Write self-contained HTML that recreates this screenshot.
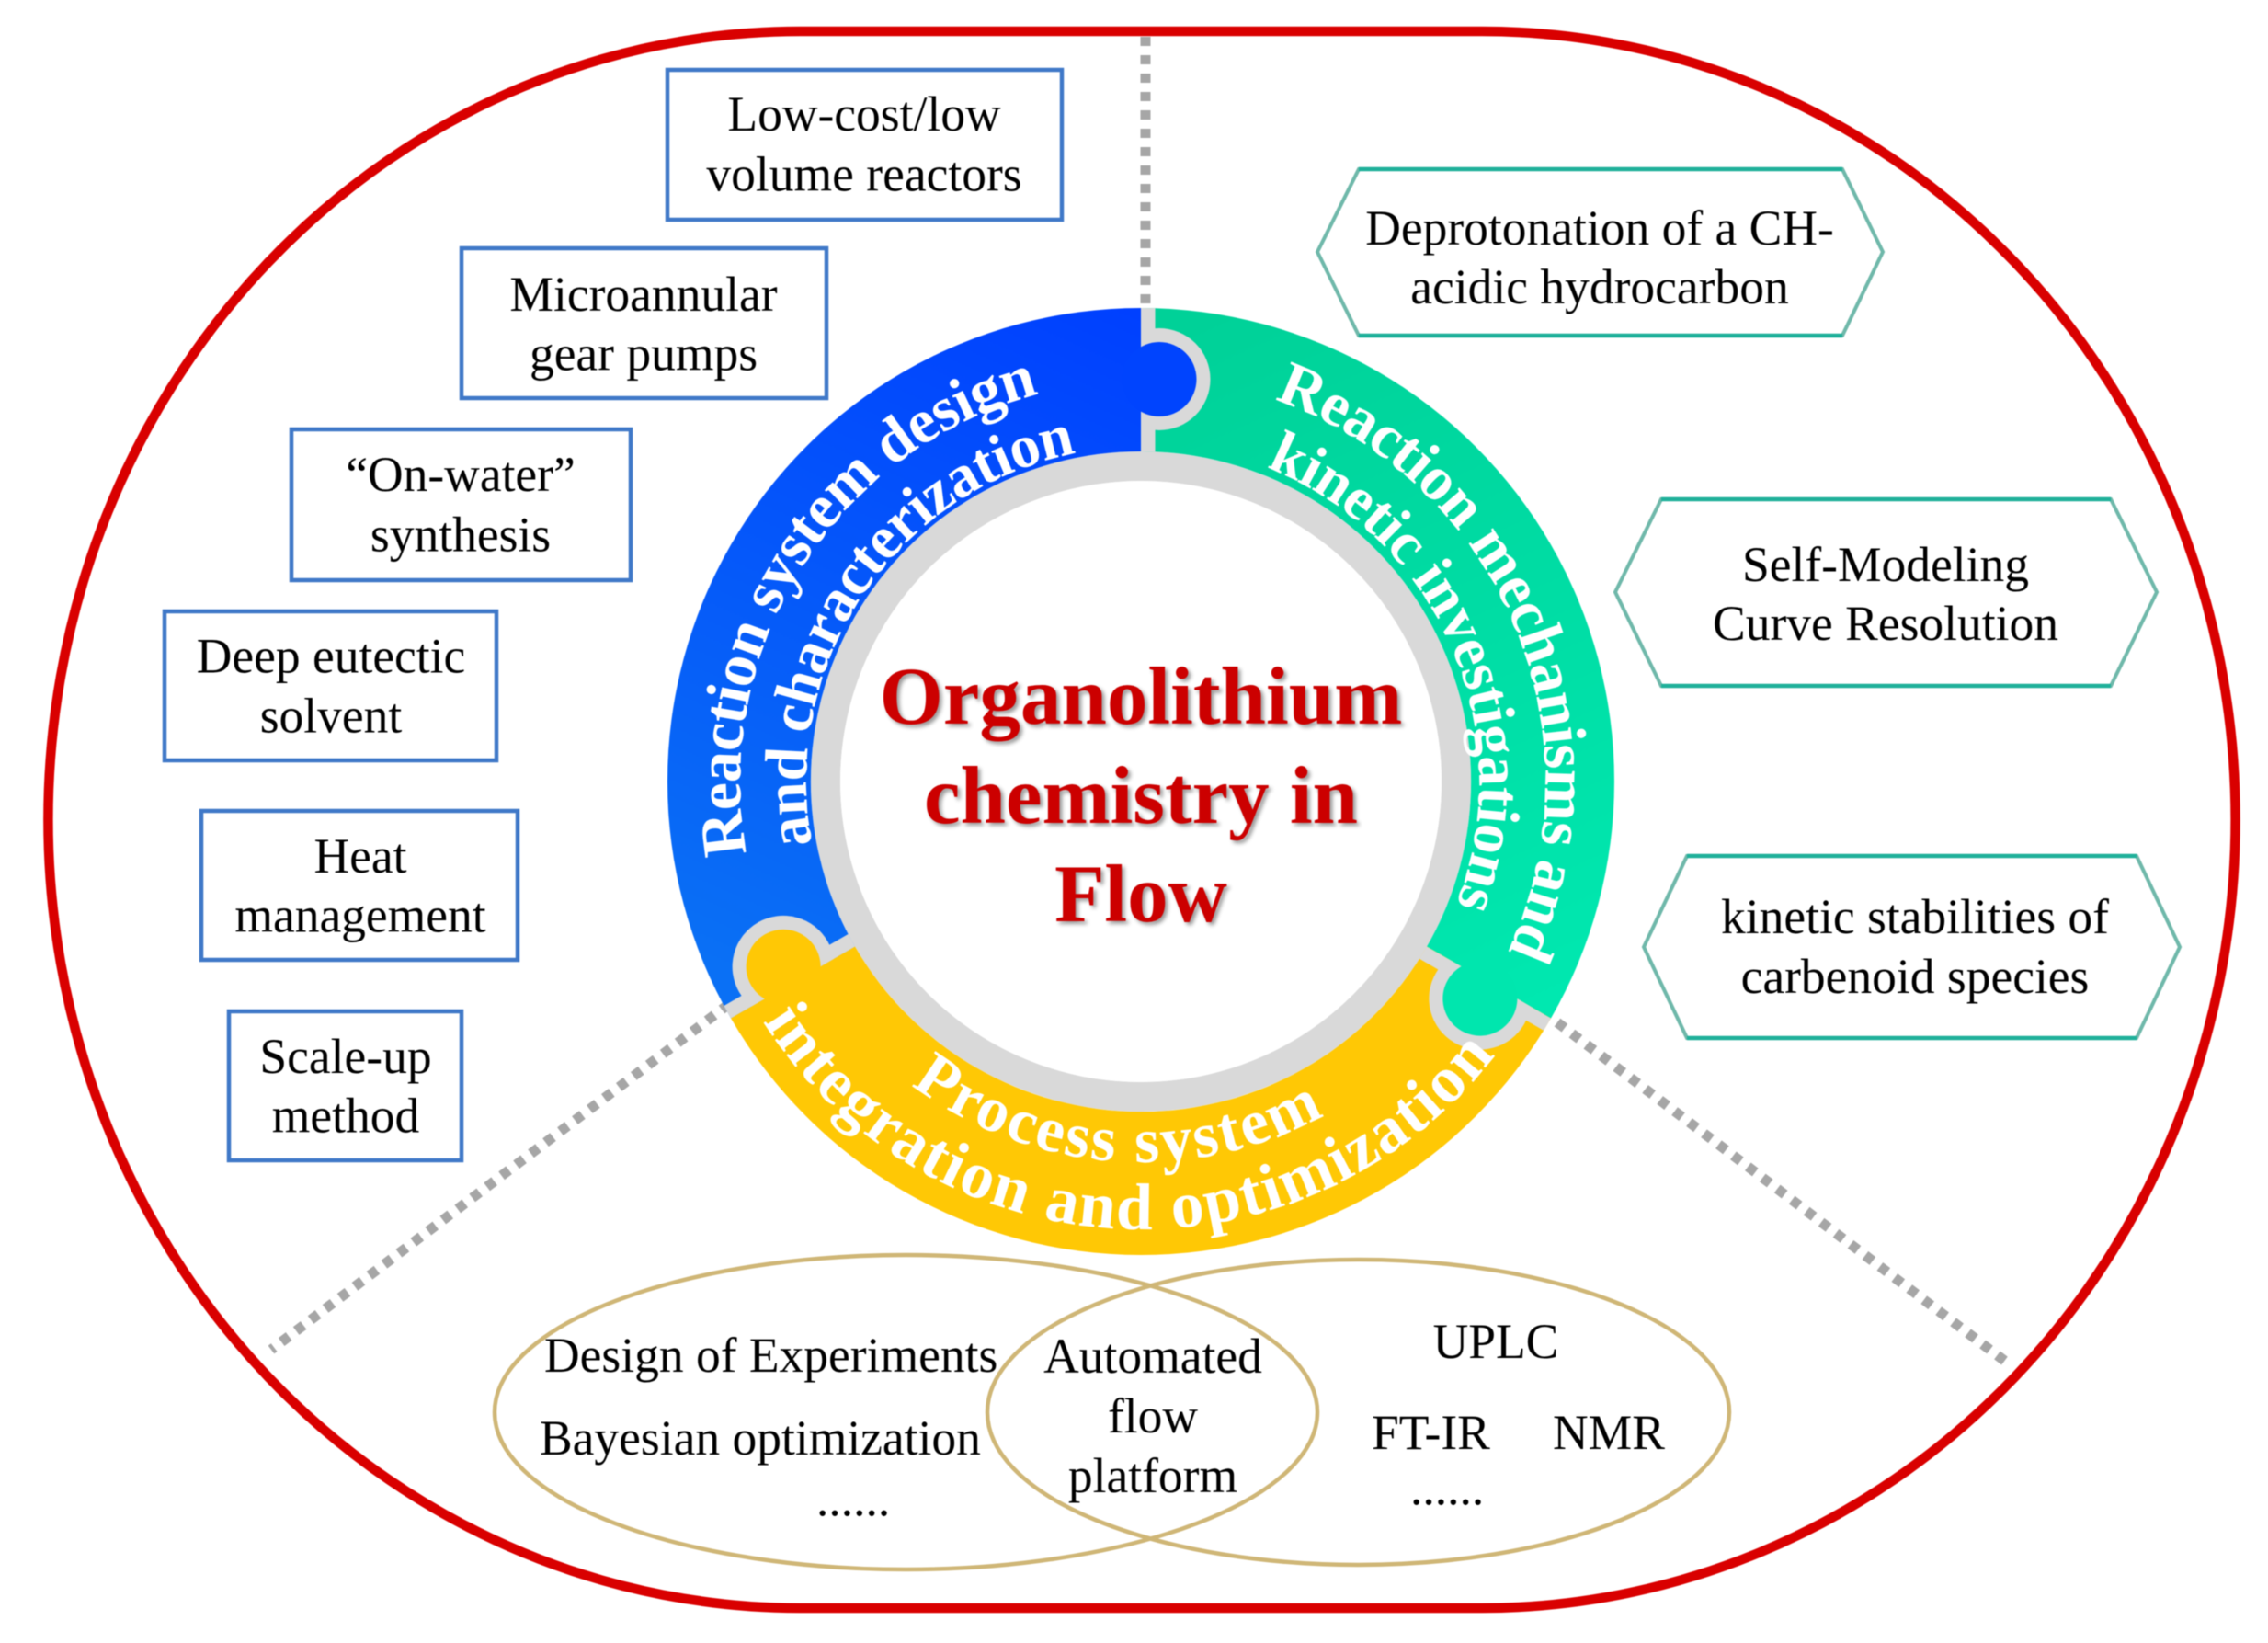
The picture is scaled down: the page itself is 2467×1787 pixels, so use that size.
<!DOCTYPE html>
<html><head><meta charset="utf-8"><style>
html,body{margin:0;padding:0;background:#fff}
svg{display:block;filter:blur(.6px)}
text{font-family:"Liberation Serif",serif}
.t{font-size:53.5px;fill:#000}
.w{font-weight:bold;fill:#fff;text-anchor:middle}
.title{font-size:89px;font-weight:bold;fill:#cc0000;text-anchor:middle;filter:drop-shadow(3px 3px 2px #999)}
</style></head><body>
<svg width="2467" height="1787" viewBox="0 0 2467 1787" xmlns="http://www.w3.org/2000/svg">
<defs>
<linearGradient id="gb" gradientUnits="userSpaceOnUse" x1="0" y1="-515" x2="-340" y2="250"><stop offset="0" stop-color="#0040ff"/><stop offset="1" stop-color="#0a70f5"/></linearGradient>
<linearGradient id="gg" gradientUnits="userSpaceOnUse" x1="60" y1="-515" x2="410" y2="250"><stop offset="0" stop-color="#00d198"/><stop offset="1" stop-color="#00e8b0"/></linearGradient>
<clipPath id="ringclip"><path clip-rule="evenodd" d="M-515 0A515 515 0 1 1 515 0A515 515 0 1 1 -515 0ZM-359 0A359 359 0 1 0 359 0A359 359 0 1 0 -359 0Z"/></clipPath>
<clipPath id="rgt"><rect x="0" y="-600" width="400" height="400"/></clipPath>
<path id="a436" d="M-436 0A436 436 0 0 1 436 0"/>
<path id="a364" d="M-364 0A364 364 0 0 1 364 0"/>
<path id="a440" d="M-440 0A440 440 0 0 1 440 0"/>
<path id="a368" d="M-368 0A368 368 0 0 1 368 0"/>
<path id="b414" d="M-414 0A414 414 0 0 0 414 0"/>
<path id="b487" d="M-487 0A487 487 0 0 0 487 0"/>
</defs>
<rect width="2467" height="1787" fill="#fff"/>
<path d="M870 34H1612A820 857.500 0 0 1 1612 1749H870A818 857.500 0 0 1 870 34Z" fill="none" stroke="#d90000" stroke-width="10.5"/>
<g fill="none" stroke="#a6a6a6" stroke-width="11" stroke-dasharray="10 10">
<path d="M1246 40V330"/>
<path d="M793 1092L295 1468"/>
<path d="M1678 1100L2183 1482"/>
</g>
<g fill="#fff" stroke="#3f78c8" stroke-width="4.5">
<rect x="726" y="76" width="429" height="163"/>
<rect x="502" y="270" width="397" height="163"/>
<rect x="317" y="467" width="369" height="164"/>
<rect x="179" y="665" width="361" height="162"/>
<rect x="219" y="882" width="344" height="162"/>
<rect x="249" y="1100" width="253" height="162"/>
</g>
<g fill="#fff" stroke="#6fb8aa" stroke-width="4">
<path d="M1433 274L1478 184H2004L2048 274L2004 365H1478Z"/>
<path d="M1757 644L1807 543H2296L2346 644L2296 746H1807Z"/>
<path d="M1788 1030L1835 931H2324L2371 1030L2324 1129H1835Z"/>
</g>
<g fill="none" stroke="#1fb09a" stroke-width="4.5">
<path d="M1478 184H2004M1478 365H2004"/>
<path d="M1807 543H2296M1807 746H2296"/>
<path d="M1835 931H2324M1835 1129H2324"/>
</g>
<g fill="none" stroke="#cfb676" stroke-width="4.5">
<ellipse cx="985.5" cy="1536" rx="447.5" ry="171"/>
<ellipse cx="1477.5" cy="1536" rx="403.5" ry="166"/>
</g>
<g transform="translate(1241 850)">
<circle r="343" fill="none" stroke="#d9d9d9" stroke-width="32"/>
<path d="M0 -515A515 515 0 0 0 -446 257.500L-311 179.500A359 359 0 0 1 0 -359Z" fill="url(#gb)"/>
<path d="M0 -515A515 515 0 0 1 446 257.500L311 179.500A359 359 0 0 0 0 -359Z" fill="url(#gg)"/>
<path d="M446 257.500A515 515 0 0 1 -446 257.500L-311 179.500A359 359 0 0 0 311 179.500Z" fill="#ffc805"/>
<g clip-path="url(#ringclip)">
<g clip-path="url(#rgt)"><rect x="0" y="-520" width="15.500" height="165" fill="#d9d9d9"/><circle cx="20" cy="-437.500" r="55.500" fill="#d9d9d9"/></g>
<g transform="rotate(120)"><g clip-path="url(#rgt)"><rect x="0" y="-520" width="15.500" height="165" fill="#d9d9d9"/><circle cx="20" cy="-437.500" r="55.500" fill="#d9d9d9"/></g></g>
<g transform="rotate(240)"><g clip-path="url(#rgt)"><rect x="0" y="-520" width="15.500" height="165" fill="#d9d9d9"/><circle cx="20" cy="-437.500" r="55.500" fill="#d9d9d9"/></g></g>
<circle cx="20" cy="-437.500" r="40.500" fill="#0044fe"/>
<g transform="rotate(120)"><circle cx="20" cy="-437.500" r="40.500" fill="#00e6ae"/></g>
<g transform="rotate(240)"><circle cx="20" cy="-437.500" r="40.500" fill="#ffc805"/></g>
</g>
<circle r="327" fill="#fff"/>
<g transform="rotate(302.400)"><text class="w" font-size="68" letter-spacing="-1"><textPath href="#a436" startOffset="50%">Reaction system design</textPath></text></g>
<g transform="rotate(304)"><text class="w" font-size="66" letter-spacing="-.8"><textPath href="#a364" startOffset="50%">and characterization</textPath></text></g>
<g transform="rotate(67)"><text class="w" font-size="68" letter-spacing="-1"><textPath href="#a440" startOffset="50%">Reaction mechanisms and</textPath></text></g>
<g transform="rotate(66.500)"><text class="w" font-size="66" letter-spacing="-.8"><textPath href="#a368" startOffset="50%">kinetic investigations</textPath></text></g>
<g transform="rotate(4)"><text class="w" font-size="70" letter-spacing="2.500"><textPath href="#b414" startOffset="50%">Process system</textPath></text></g>
<g transform="rotate(2.500)"><text class="w" font-size="72" letter-spacing="2"><textPath href="#b487" startOffset="50%">integration and optimization</textPath></text></g>
</g>
<text class="title" x="1241" y="787">Organolithium</text>
<text class="title" x="1241" y="895">chemistry in</text>
<text class="title" x="1241" y="1002">Flow</text>
<g text-anchor="middle">
<text class="t" x="940" y="142">Low-cost/low</text><text class="t" x="940" y="207.500">volume reactors</text>
<text class="t" x="700" y="338">Microannular</text><text class="t" x="700" y="402.500">gear pumps</text>
<text class="t" x="501" y="534">“On-water”</text><text class="t" x="501" y="599.500">synthesis</text>
<text class="t" x="360" y="731.500">Deep eutectic</text><text class="t" x="360" y="796.500">solvent</text>
<text class="t" x="392" y="949">Heat</text><text class="t" x="392" y="1013.500">management</text>
<text class="t" x="376" y="1167">Scale-up</text><text class="t" x="376" y="1231.500">method</text>
<text class="t" x="1740" y="266">Deprotonation of a CH-</text><text class="t" x="1740" y="330">acidic hydrocarbon</text>
<text class="t" x="2051" y="632">Self-Modeling</text><text class="t" x="2051" y="696">Curve Resolution</text>
<text class="t" x="2083" y="1015">kinetic stabilities of</text><text class="t" x="2083" y="1080">carbenoid species</text>
<text class="t" x="1254" y="1493">Automated</text><text class="t" x="1254" y="1558">flow</text><text class="t" x="1254" y="1623">platform</text>
<text class="t" x="1627" y="1477">UPLC</text>
</g>
<text class="t" x="592" y="1492">Design of Experiments</text>
<text class="t" x="587" y="1582">Bayesian optimization</text>
<text class="t" x="888" y="1648">......</text>
<text class="t" x="1492" y="1576">FT-IR</text>
<text class="t" x="1689" y="1576">NMR</text>
<text class="t" x="1534" y="1636">......</text>
</svg>
</body></html>
